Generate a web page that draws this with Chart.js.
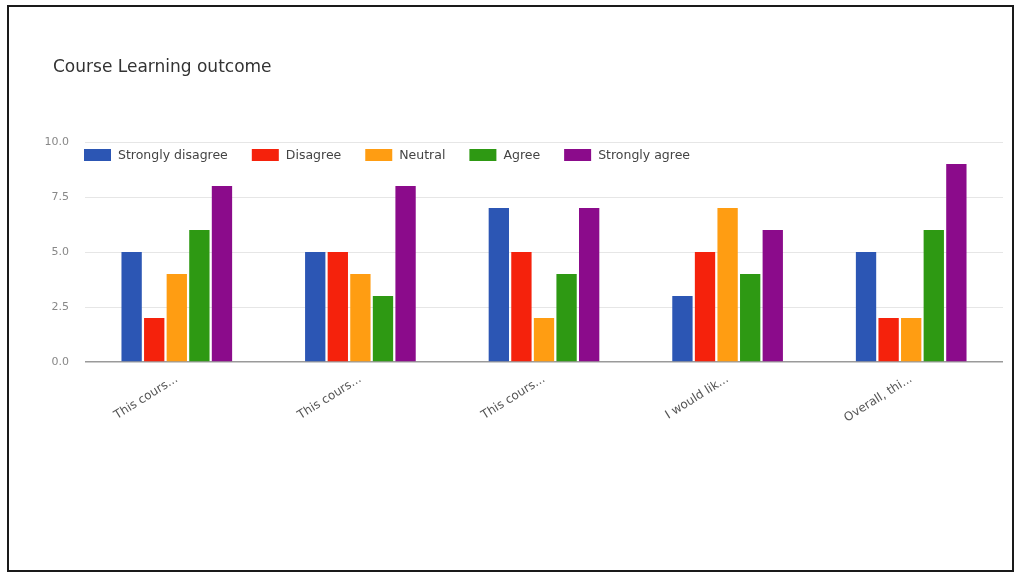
<!DOCTYPE html>
<html lang="en">
<head>
  <meta charset="UTF-8" />
  <title>Course Learning outcome</title>
  <script src="https://cdn.jsdelivr.net/npm/chart.js"></script>
  <style>
    body { margin: 0; background: #fff; }
    #wrap { position: relative; width: 1017px; height: 574px; }
    #frame {
      position: absolute; left: 7px; top: 5px; width: 1007px; height: 567px;
      box-sizing: border-box; border: 2px solid #1a1a1a; pointer-events: none;
    }
    #title {
      position: absolute; left: 53px; top: 56px;
      font-family: "DejaVu Sans", sans-serif; font-size: 17px; color: #333;
    }
    canvas { position: absolute; left: 0; top: 0; }
  </style>
</head>
<body>
  <div id="wrap">
    <canvas id="chart" width="1017" height="574"></canvas>
    <div id="title">Course Learning outcome</div>
    <div id="frame"></div>
  </div>

  <script>
    const categories = ['This cours...', 'This cours...', 'This cours...', 'I would lik...', 'Overall, thi...'];
    const strongDisagree = [5, 5, 7, 3, 5];
    const disagree = [2, 5, 5, 5, 2];
    const neutral = [4, 4, 2, 7, 2];
    const agree = [6, 3, 4, 4, 6];
    const strongAgree = [8, 8, 7, 6, 9];
    const yTicks = [0, 2.5, 5, 7.5, 10];

    const font = '"DejaVu Sans", sans-serif';

    // legend drawn inside the plot, like the Google chart
    const insideLegend = {
      id: 'insideLegend',
      afterDraw(chart) {
        const ctx = chart.ctx;
        let x = chart.chartArea.left - 1;
        const y = 155;
        ctx.save();
        ctx.font = '12.5px ' + font;
        ctx.textBaseline = 'middle';
        chart.data.datasets.forEach((ds) => {
          ctx.fillStyle = ds.backgroundColor;
          ctx.fillRect(x, y - 6, 27, 12);
          ctx.fillStyle = '#444';
          ctx.fillText(ds.label, x + 34, y + 1);
          x += 34 + ctx.measureText(ds.label).width + 24;
        });
        ctx.restore();
      }
    };

    function makeSet(label, data, color) {
      return {
        label: label,
        data: data,
        backgroundColor: color,
        categoryPercentage: 0.615,
        barPercentage: 0.9,
      };
    }

    new Chart(document.getElementById('chart'), {
      type: 'bar',
      data: {
        labels: categories,
        datasets: [
          makeSet('Strongly disagree', strongDisagree, '#2c56b4'),
          makeSet('Disagree', disagree, '#f5220c'),
          makeSet('Neutral', neutral, '#ff9d12'),
          makeSet('Agree', agree, '#2e9913'),
          makeSet('Strongly agree', strongAgree, '#8b0b8b'),
        ],
      },
      options: {
        responsive: false,
        animation: false,
        layout: { padding: { top: 142, right: 14, left: 0, bottom: 0 } },
        plugins: {
          legend: { display: false },
          tooltip: { enabled: false },
        },
        scales: {
          x: {
            grid: { display: false },
            border: { display: false },
            ticks: {
              minRotation: 32,
              maxRotation: 32,
              padding: 2,
              color: '#555',
              font: { family: font, size: 12 },
            },
            afterFit(scale) { scale.height = 212; },
          },
          y: {
            min: 0,
            max: 10,
            afterBuildTicks(scale) { scale.ticks = yTicks.map((v) => ({ value: v })); },
            grid: {
              drawTicks: false,
              color: (c) => (c.tick && c.tick.value === 0 ? '#9a9a9a' : '#e6e6e6'),
              lineWidth: (c) => (c.tick && c.tick.value === 0 ? 1.5 : 1),
            },
            border: { display: false },
            ticks: {
              padding: 16,
              color: '#888',
              font: { family: font, size: 11 },
              callback: (v) => Number(v).toFixed(1),
            },
            afterFit(scale) { scale.width = 85; },
          },
        },
      },
      plugins: [insideLegend],
    });
  </script>
</body>
</html>
